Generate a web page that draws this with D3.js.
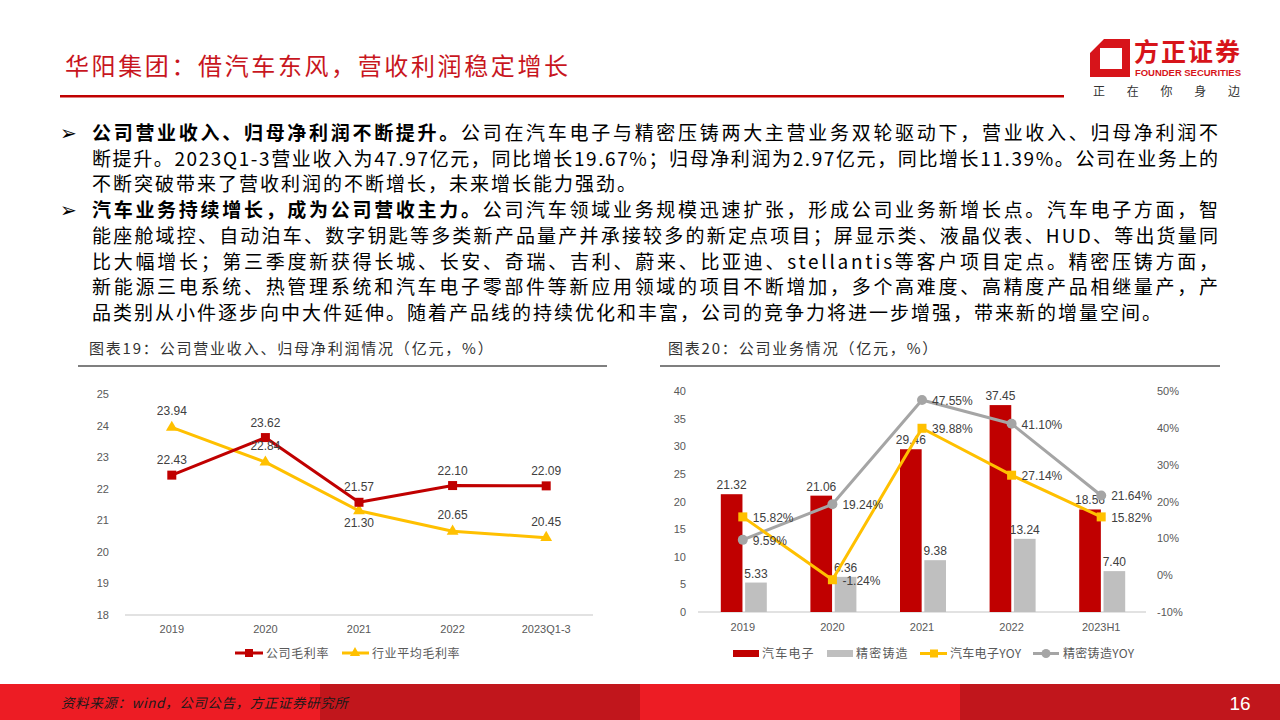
<!DOCTYPE html>
<html>
<head>
<meta charset="utf-8">
<script src="https://cdn.jsdelivr.net/npm/d3@7"></script>
<style>
  body { margin: 0; background: #fff; }
  svg { display: block; }
</style>
</head>
<body>
<script>
// ---- chart data ----
var marginYears = ["2019", "2020", "2021", "2022", "2023Q1-3"];
var companyMargin = [22.43, 23.62, 21.57, 22.10, 22.09];
var industryMargin = [23.94, 22.84, 21.30, 20.65, 20.45];
var marginTicks = [18, 19, 20, 21, 22, 23, 24, 25];

var bizYears = ["2019", "2020", "2021", "2022", "2023H1"];
var autoElec = [21.32, 21.06, 29.46, 37.45, 18.56];
var dieCast = [5.33, 6.36, 9.38, 13.24, 7.40];
var autoElecYoy = [15.82, -1.24, 39.88, 27.14, 15.82];
var dieCastYoy = [9.59, 19.24, 47.55, 41.10, 21.64];
var bizTicks = [0, 5, 10, 15, 20, 25, 30, 35, 40];
var yoyTicks = [-10, 0, 10, 20, 30, 40, 50];

// label placement for the industry line (above / below the point)
var industrySide = ["up", "up", "down", "up", "up"];

// ---- page text ----
var bodyLines = [
  { bullet: true, justify: true, parts: [["公司营业收入、归母净利润不断提升。", 1], ["公司在汽车电子与精密压铸两大主营业务双轮驱动下，营业收入、归母净利润不", 0]] },
  { justify: true, parts: [["断提升。2023Q1-3营业收入为47.97亿元，同比增长19.67%；归母净利润为2.97亿元，同比增长11.39%。公司在业务上的", 0]] },
  { justify: false, parts: [["不断突破带来了营收利润的不断增长，未来增长能力强劲。", 0]] },
  { bullet: true, justify: true, parts: [["汽车业务持续增长，成为公司营收主力。", 1], ["公司汽车领域业务规模迅速扩张，形成公司业务新增长点。汽车电子方面，智", 0]] },
  { justify: true, parts: [["能座舱域控、自动泊车、数字钥匙等多类新产品量产并承接较多的新定点项目；屏显示类、液晶仪表、HUD、等出货量同", 0]] },
  { justify: true, parts: [["比大幅增长；第三季度新获得长城、长安、奇瑞、吉利、蔚来、比亚迪、stellantis等客户项目定点。精密压铸方面，", 0]] },
  { justify: true, parts: [["新能源三电系统、热管理系统和汽车电子零部件等新应用领域的项目不断增加，多个高难度、高精度产品相继量产，产", 0]] },
  { justify: false, parts: [["品类别从小件逐步向中大件延伸。随着产品线的持续优化和丰富，公司的竞争力将进一步增强，带来新的增量空间。", 0]] }
];

var RED = "#c00000", YELLOW = "#ffc000", GREY = "#bfbfbf", GREYLINE = "#a5a5a5";
var numFont = "'Liberation Sans', Arial, sans-serif";

var svg = d3.select("body").append("svg")
  .attr("width", 1280)
  .attr("height", 720)
  .style("font-family", "'Noto Sans CJK SC', sans-serif");

// stretch text so it ends at a given x
function fitText(sel, width) {
  sel.style("letter-spacing", "0px");
  var n = [...sel.text()].length;
  var w = sel.node().getComputedTextLength();
  sel.style("letter-spacing", ((width - w) / (n - 1)) + "px");
}

// ---- header ----
svg.append("text")
  .attr("x", 65).attr("y", 75)
  .attr("font-size", 24).attr("fill", "#c8161e")
  .text("华阳集团：借汽车东风，营收利润稳定增长")
  .call(fitText, 503);

svg.append("rect").attr("x", 60).attr("y", 95).attr("width", 1004).attr("height", 2.5).attr("fill", RED);

// logo
var logo = svg.append("g");
logo.append("path")
  .attr("d", "M1104,39 L1130,39 L1130,77 L1090,77 L1090,53 Z M1100,48 L1100,69 L1122,69 L1122,48 Z")
  .attr("fill", "#d7141a").attr("fill-rule", "evenodd");
logo.append("text").attr("x", 1134).attr("y", 61)
  .attr("font-size", 25).attr("font-weight", 700).attr("fill", "#d7141a")
  .text("方正证券").call(fitText, 106);
logo.append("text").attr("x", 1135).attr("y", 76)
  .attr("font-size", 9.5).attr("font-weight", 700).attr("fill", "#d7141a")
  .style("font-family", numFont)
  .text("FOUNDER SECURITIES").call(fitText, 106);
logo.append("text").attr("x", 1093).attr("y", 96)
  .attr("font-size", 12).attr("fill", "#333")
  .text("正在你身边").call(fitText, 147);

// ---- body text ----
var body = svg.append("g").attr("font-size", 19).attr("fill", "#000");
bodyLines.forEach(function(line, i) {
  var y = 140 + i * 25.7;
  if (line.bullet) {
    body.append("text").attr("x", 60).attr("y", y)
      .attr("font-size", 20)
      .style("font-family", "'DejaVu Sans', sans-serif")
      .text("➢");
  }
  var t = body.append("text").attr("x", 92).attr("y", y);
  line.parts.forEach(function(p) {
    t.append("tspan").attr("font-weight", p[1] ? 700 : 400).text(p[0]);
  });
  if (line.justify) fitText(t, 1126);
  else t.style("letter-spacing", "2px");
});

// ---- captions ----
function caption(x, x0, x1, label) {
  svg.append("text").attr("x", x).attr("y", 354)
    .attr("font-size", 15).attr("fill", "#333")
    .style("letter-spacing", "1.8px")
    .text(label);
  svg.append("rect").attr("x", x0).attr("y", 365).attr("width", x1 - x0).attr("height", 2).attr("fill", "#7f7f7f");
}
caption(89, 78, 607, "图表19：公司营业收入、归母净利润情况（亿元，%）");
caption(668, 660, 1220, "图表20：公司业务情况（亿元，%）");

// ---- left chart: gross margin ----
var lx = d3.scaleBand().domain(marginYears).range([125, 593]);
var ly = d3.scaleLinear().domain([18, 25]).range([615, 394]);
var left = svg.append("g").attr("font-family", numFont);

left.append("line")
  .attr("x1", 125).attr("x2", 593).attr("y1", ly(18)).attr("y2", ly(18))
  .attr("stroke", "#d9d9d9").attr("stroke-width", 1.5);

left.append("g")
  .attr("transform", "translate(0," + ly(18) + ")")
  .call(d3.axisBottom(lx).tickSize(0).tickPadding(10))
  .call(g => g.select(".domain").remove())
  .selectAll("text").attr("font-size", 11).attr("fill", "#595959").attr("font-family", numFont);

left.append("g")
  .attr("transform", "translate(112,0)")
  .call(d3.axisLeft(ly).tickValues(marginTicks).tickSize(0).tickPadding(3).tickFormat(d3.format("d")))
  .call(g => g.select(".domain").remove())
  .selectAll("text").attr("font-size", 11).attr("fill", "#595959").attr("font-family", numFont);

var lcx = d => lx(d) + lx.bandwidth() / 2;
var lineGen = (vals) => d3.line().x((d, i) => lcx(marginYears[i])).y(d => ly(d))(vals);

left.append("path").attr("d", lineGen(industryMargin))
  .attr("fill", "none").attr("stroke", YELLOW).attr("stroke-width", 3).attr("stroke-linejoin", "round");
left.append("path").attr("d", lineGen(companyMargin))
  .attr("fill", "none").attr("stroke", RED).attr("stroke-width", 3).attr("stroke-linejoin", "round");

var tri = d3.symbol().type(d3.symbolTriangle).size(60);
left.selectAll(".tri").data(industryMargin).enter().append("path")
  .attr("d", tri)
  .attr("transform", (d, i) => "translate(" + lcx(marginYears[i]) + "," + ly(d) + ")")
  .attr("fill", YELLOW);
left.selectAll(".sq").data(companyMargin).enter().append("rect")
  .attr("x", (d, i) => lcx(marginYears[i]) - 4.5)
  .attr("y", d => ly(d) - 4.5)
  .attr("width", 9).attr("height", 9)
  .attr("fill", RED);

left.selectAll(".lblC").data(companyMargin).enter().append("text")
  .attr("x", (d, i) => lcx(marginYears[i]))
  .attr("y", d => ly(d) - 11)
  .attr("text-anchor", "middle").attr("font-size", 12).attr("fill", "#404040")
  .text(d => d.toFixed(2));
left.selectAll(".lblI").data(industryMargin).enter().append("text")
  .attr("x", (d, i) => lcx(marginYears[i]))
  .attr("y", (d, i) => industrySide[i] === "up" ? ly(d) - 12 : ly(d) + 16)
  .attr("text-anchor", "middle").attr("font-size", 12).attr("fill", "#404040")
  .text(d => d.toFixed(2));

// legend
var lleg = svg.append("g").attr("font-size", 12).attr("fill", "#595959");
lleg.append("line").attr("x1", 235).attr("x2", 263).attr("y1", 653).attr("y2", 653).attr("stroke", RED).attr("stroke-width", 3);
lleg.append("rect").attr("x", 245).attr("y", 649).attr("width", 8).attr("height", 8).attr("fill", RED);
lleg.append("text").attr("x", 266).attr("y", 658).style("letter-spacing", "0.6px").text("公司毛利率");
lleg.append("line").attr("x1", 342).attr("x2", 369).attr("y1", 653).attr("y2", 653).attr("stroke", YELLOW).attr("stroke-width", 3);
lleg.append("path").attr("d", d3.symbol().type(d3.symbolTriangle).size(45)).attr("transform", "translate(355,653)").attr("fill", YELLOW);
lleg.append("text").attr("x", 372).attr("y", 658).style("letter-spacing", "0.6px").text("行业平均毛利率");

// ---- right chart: business ----
var rx = d3.scaleBand().domain(bizYears).range([698, 1146]);
var inner = d3.scaleBand().domain(["elec", "cast"]).range([-22, 24]).paddingInner(0.11);
var ry = d3.scaleLinear().domain([0, 40]).range([612, 391]);
var ry2 = d3.scaleLinear().domain([-10, 50]).range([612, 391]);
var right = svg.append("g").attr("font-family", numFont);
var rcx = d => rx(d) + rx.bandwidth() / 2;

right.append("line")
  .attr("x1", 698).attr("x2", 1146).attr("y1", ry(0)).attr("y2", ry(0))
  .attr("stroke", "#d9d9d9").attr("stroke-width", 1.5);

right.append("g")
  .attr("transform", "translate(0," + ry(0) + ")")
  .call(d3.axisBottom(rx).tickSize(0).tickPadding(11))
  .call(g => g.select(".domain").remove())
  .selectAll("text").attr("font-size", 11).attr("fill", "#595959").attr("font-family", numFont);

right.append("g")
  .attr("transform", "translate(688,0)")
  .call(d3.axisLeft(ry).tickValues(bizTicks).tickSize(0).tickPadding(2))
  .call(g => g.select(".domain").remove())
  .selectAll("text").attr("font-size", 11).attr("fill", "#595959").attr("font-family", numFont);

right.append("g")
  .attr("transform", "translate(1155,0)")
  .call(d3.axisRight(ry2).tickValues(yoyTicks).tickSize(0).tickPadding(2).tickFormat(d => d + "%"))
  .call(g => g.select(".domain").remove())
  .selectAll("text").attr("font-size", 11).attr("fill", "#595959").attr("font-family", numFont);

right.selectAll(".barE").data(autoElec).enter().append("rect")
  .attr("x", (d, i) => rcx(bizYears[i]) + inner("elec"))
  .attr("y", d => ry(d))
  .attr("width", inner.bandwidth())
  .attr("height", d => ry(0) - ry(d))
  .attr("fill", RED);
right.selectAll(".barC").data(dieCast).enter().append("rect")
  .attr("x", (d, i) => rcx(bizYears[i]) + inner("cast"))
  .attr("y", d => ry(d))
  .attr("width", inner.bandwidth())
  .attr("height", d => ry(0) - ry(d))
  .attr("fill", GREY);

right.selectAll(".lblE").data(autoElec).enter().append("text")
  .attr("x", (d, i) => rcx(bizYears[i]) + inner("elec") + inner.bandwidth() / 2)
  .attr("y", d => ry(d) - 5)
  .attr("text-anchor", "middle").attr("font-size", 12).attr("fill", "#404040")
  .text(d => d.toFixed(2));
right.selectAll(".lblC").data(dieCast).enter().append("text")
  .attr("x", (d, i) => rcx(bizYears[i]) + inner("cast") + inner.bandwidth() / 2)
  .attr("y", d => ry(d) - 5)
  .attr("text-anchor", "middle").attr("font-size", 12).attr("fill", "#404040")
  .text(d => d.toFixed(2));

var yoyLine = (vals) => d3.line().x((d, i) => rcx(bizYears[i])).y(d => ry2(d))(vals);
right.append("path").attr("d", yoyLine(dieCastYoy))
  .attr("fill", "none").attr("stroke", GREYLINE).attr("stroke-width", 3).attr("stroke-linejoin", "round");
right.append("path").attr("d", yoyLine(autoElecYoy))
  .attr("fill", "none").attr("stroke", YELLOW).attr("stroke-width", 3).attr("stroke-linejoin", "round");

right.selectAll(".dotC").data(dieCastYoy).enter().append("circle")
  .attr("cx", (d, i) => rcx(bizYears[i])).attr("cy", d => ry2(d)).attr("r", 5)
  .attr("fill", GREYLINE);
right.selectAll(".sqE").data(autoElecYoy).enter().append("rect")
  .attr("x", (d, i) => rcx(bizYears[i]) - 4.5).attr("y", d => ry2(d) - 4.5)
  .attr("width", 9).attr("height", 9)
  .attr("fill", YELLOW);

right.selectAll(".lblYE").data(autoElecYoy).enter().append("text")
  .attr("x", (d, i) => rcx(bizYears[i]) + 10)
  .attr("y", d => ry2(d) + 5)
  .attr("font-size", 12).attr("fill", "#404040")
  .text(d => d.toFixed(2) + "%");
right.selectAll(".lblYC").data(dieCastYoy).enter().append("text")
  .attr("x", (d, i) => rcx(bizYears[i]) + 10)
  .attr("y", d => ry2(d) + 5)
  .attr("font-size", 12).attr("fill", "#404040")
  .text(d => d.toFixed(2) + "%");

// legend
var rleg = svg.append("g").attr("font-size", 12).attr("fill", "#595959");
rleg.append("rect").attr("x", 733).attr("y", 650).attr("width", 26).attr("height", 7).attr("fill", RED);
rleg.append("text").attr("x", 762).attr("y", 658).style("letter-spacing", "1.2px").text("汽车电子");
rleg.append("rect").attr("x", 827).attr("y", 650).attr("width", 26).attr("height", 7).attr("fill", GREY);
rleg.append("text").attr("x", 856).attr("y", 658).style("letter-spacing", "1.2px").text("精密铸造");
rleg.append("line").attr("x1", 920).attr("x2", 947).attr("y1", 653.5).attr("y2", 653.5).attr("stroke", YELLOW).attr("stroke-width", 3);
rleg.append("rect").attr("x", 930).attr("y", 649.5).attr("width", 8).attr("height", 8).attr("fill", YELLOW);
rleg.append("text").attr("x", 950).attr("y", 658).style("letter-spacing", "0.3px").text("汽车电子YOY");
rleg.append("line").attr("x1", 1033).attr("x2", 1059).attr("y1", 653.5).attr("y2", 653.5).attr("stroke", GREYLINE).attr("stroke-width", 3);
rleg.append("circle").attr("cx", 1046).attr("cy", 653.5).attr("r", 4.5).attr("fill", GREYLINE);
rleg.append("text").attr("x", 1063).attr("y", 658).style("letter-spacing", "0.3px").text("精密铸造YOY");

// ---- footer ----
var footColors = ["#ed1c24", "#c1161c", "#ed1c24", "#c1161c"];
svg.selectAll(".foot").data(footColors).enter().append("rect")
  .attr("x", (d, i) => i * 320).attr("y", 684)
  .attr("width", 320).attr("height", 36)
  .attr("fill", d => d);
svg.append("text").attr("x", 61).attr("y", 708)
  .attr("font-size", 13.5).attr("font-style", "italic").attr("fill", "#1a1a1a")
  .style("letter-spacing", "0.6px")
  .text("资料来源：wind，公司公告，方正证券研究所");
svg.append("text").attr("x", 1240).attr("y", 710)
  .attr("text-anchor", "middle").attr("font-size", 19).attr("fill", "#fff")
  .style("font-family", numFont)
  .text("16");
</script>
</body>
</html>
